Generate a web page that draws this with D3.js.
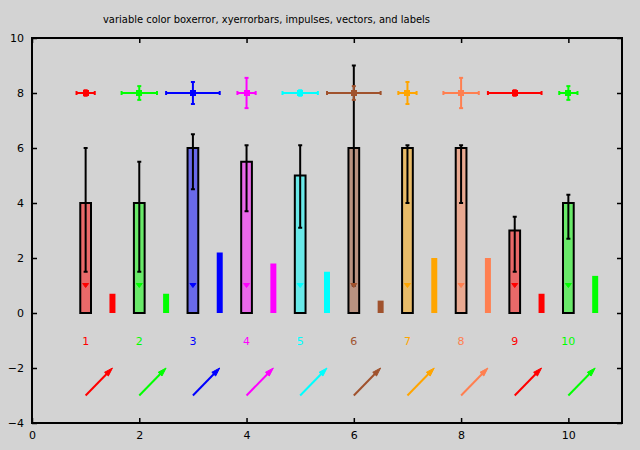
<!DOCTYPE html>
<html><head><meta charset="utf-8">
<script src="https://cdn.jsdelivr.net/npm/d3@7"></script>
<style>body{margin:0;background:#d3d3d3}svg{display:block}</style>
</head><body><svg id="c" width="640" height="450"></svg>
<script>
const titleText = "variable color boxerror, xyerrorbars, impulses, vectors, and labels";
const xs = [1,2,3,4,5,6,7,8,9,10];
const colors = ["#ff0000","#00ff00","#0000ff","#ff00ff","#00ffff","#a0522d","#ffa500","#ff7f50","#ff0000","#00ff00"];
const boxY = [4,4,6,5.5,5,6,6,6,3,4];
const boxLow = [1.5,1.5,4.5,3.7,3.1,1,4,4,1.5,2.7];
const boxHigh = [6,5.5,6.5,6.1,6.1,9,6.1,6.1,3.5,4.3];
const triY = [1,1,1,1,1,1,1,1,1,1];
const impOffset = 0.5;
const impY = [0.7,0.7,2.2,1.8,1.5,0.45,2,2,0.7,1.35];
const errY = [8,8,8,8,8,8,8,8,8,8];
const xErr = [0.17,0.33,0.5,0.17,0.33,0.5,0.17,0.33,0.5,0.17];
const yErr = [0.1,0.25,0.4,0.55,0.1,0.25,0.4,0.55,0.1,0.25];
const labelY = [-1,-1,-1,-1,-1,-1,-1,-1,-1,-1];
const vecY = [-3,-3,-3,-3,-3,-3,-3,-3,-3,-3];
const vecDX = [0.5,0.5,0.5,0.5,0.5,0.5,0.5,0.5,0.5,0.5];
const vecDY = [1,1,1,1,1,1,1,1,1,1];
const xTicks = [0,2,4,6,8,10];
const yTicks = [-4,-2,0,2,4,6,8,10];
const boxWidth = 0.2;

const svg = d3.select("#c");
const L=32,R=622,T=38,B=423;
const x = d3.scaleLinear().domain([0,11]).range([L,R]);
const y = d3.scaleLinear().domain([-4,10]).range([B,T]);
const font = "DejaVu Sans, sans-serif";

svg.append("rect").attr("width",640).attr("height",450).attr("fill","#d3d3d3");

// title
svg.append("text").attr("x",103).attr("y",23).attr("text-anchor","start")
  .attr("font-family",font).attr("font-size",11).attr("textLength",327)
  .attr("lengthAdjust","spacingAndGlyphs").text(titleText);

// axes
function styleAxis(g){g.select(".domain").remove();g.selectAll("line").attr("stroke","#000").attr("stroke-width",1.5);
  g.selectAll("text").attr("font-family",font).attr("font-size",11).attr("fill","#000");}
svg.append("g").attr("transform",`translate(0,${B})`).call(d3.axisBottom(x).tickValues(xTicks).tickFormat(d3.format("d")).tickSizeInner(-5).tickSizeOuter(0).tickPadding(8)).call(styleAxis);
svg.append("g").attr("transform",`translate(0,${T})`).call(d3.axisTop(x).tickValues(xTicks).tickFormat("").tickSizeInner(-5).tickSizeOuter(0)).call(styleAxis);
svg.append("g").attr("transform",`translate(${L},0)`).call(d3.axisLeft(y).tickValues(yTicks).tickFormat(d3.format("d")).tickSizeInner(-5).tickSizeOuter(0).tickPadding(8)).call(styleAxis);
svg.append("g").attr("transform",`translate(${R},0)`).call(d3.axisRight(y).tickValues(yTicks).tickFormat("").tickSizeInner(-5).tickSizeOuter(0)).call(styleAxis);
svg.append("rect").attr("x",L).attr("y",T).attr("width",R-L).attr("height",B-T).attr("fill","none").attr("stroke","#000").attr("stroke-width",2);

const idx = d3.range(xs.length);
// boxes
svg.append("g").selectAll("rect").data(idx).join("rect")
  .attr("x",i=>x(xs[i]-boxWidth/2)).attr("width",i=>x(boxWidth)-x(0))
  .attr("y",i=>y(boxY[i])).attr("height",i=>y(0)-y(boxY[i]))
  .attr("fill",i=>colors[i]).attr("fill-opacity",0.5)
  .attr("stroke","#000").attr("stroke-width",2);
// box error bars
const be = svg.append("g").attr("stroke","#000").attr("stroke-width",2);
idx.forEach(i=>{
  be.append("line").attr("x1",x(xs[i])).attr("x2",x(xs[i])).attr("y1",y(boxLow[i])).attr("y2",y(boxHigh[i]));
  [boxLow[i],boxHigh[i]].forEach(v=>be.append("line").attr("x1",x(xs[i])-2).attr("x2",x(xs[i])+2).attr("y1",y(v)).attr("y2",y(v)));
});
// triangles
svg.append("g").selectAll("path").data(idx).join("path")
  .attr("d",i=>{const cx=x(xs[i]),cy=y(triY[i]);return `M${cx-3},${cy-2}L${cx+3},${cy-2}L${cx},${cy+2}Z`;})
  .attr("fill",i=>colors[i]).attr("stroke",i=>colors[i]).attr("stroke-width",1);
// impulses
svg.append("g").selectAll("line").data(idx).join("line")
  .attr("x1",i=>x(xs[i]+impOffset)).attr("x2",i=>x(xs[i]+impOffset))
  .attr("y1",y(0)).attr("y2",i=>y(impY[i]))
  .attr("stroke",i=>colors[i]).attr("stroke-width",6);
// xyerrorbars
const xe = svg.append("g");
idx.forEach(i=>{
  const c=colors[i], cx=x(xs[i]), cy=y(errY[i]);
  const g=xe.append("g").attr("stroke",c).attr("stroke-width",2).attr("fill",c);
  g.append("line").attr("x1",x(xs[i]-xErr[i])).attr("x2",x(xs[i]+xErr[i])).attr("y1",cy).attr("y2",cy);
  g.append("line").attr("x1",cx).attr("x2",cx).attr("y1",y(errY[i]-yErr[i])).attr("y2",y(errY[i]+yErr[i]));
  [xs[i]-xErr[i],xs[i]+xErr[i]].forEach(v=>g.append("line").attr("x1",x(v)).attr("x2",x(v)).attr("y1",cy-2).attr("y2",cy+2));
  [errY[i]-yErr[i],errY[i]+yErr[i]].forEach(v=>g.append("line").attr("x1",cx-2).attr("x2",cx+2).attr("y1",y(v)).attr("y2",y(v)));
  g.append("rect").attr("x",cx-3).attr("y",cy-3).attr("width",6).attr("height",6).attr("stroke","none").attr("shape-rendering","crispEdges");
});
// labels
svg.append("g").selectAll("text").data(idx).join("text")
  .attr("x",i=>x(xs[i])).attr("y",i=>y(labelY[i])+4).attr("text-anchor","middle")
  .attr("font-family",font).attr("font-size",11).attr("fill",i=>colors[i]).text(i=>String(xs[i]));
// vectors
const vg = svg.append("g");
idx.forEach(i=>{
  const x1=x(xs[i]),y1=y(vecY[i]),x2=x(xs[i]+vecDX[i]),y2=y(vecY[i]+vecDY[i]);
  const a=Math.atan2(y2-y1,x2-x1), hl=9, hw=0.3;
  const bx=x2-hl*Math.cos(a), by=y2-hl*Math.sin(a);
  vg.append("line").attr("x1",x1).attr("y1",y1).attr("x2",bx+2*Math.cos(a)).attr("y2",by+2*Math.sin(a))
    .attr("stroke",colors[i]).attr("stroke-width",2);
  const p1=[x2-hl*Math.cos(a-hw),y2-hl*Math.sin(a-hw)], p2=[x2-hl*Math.cos(a+hw),y2-hl*Math.sin(a+hw)];
  vg.append("path").attr("d",`M${x2},${y2}L${p1[0]},${p1[1]}L${p2[0]},${p2[1]}Z`).attr("fill",colors[i]).attr("stroke",colors[i]).attr("stroke-width",1);
});
</script></body></html>
